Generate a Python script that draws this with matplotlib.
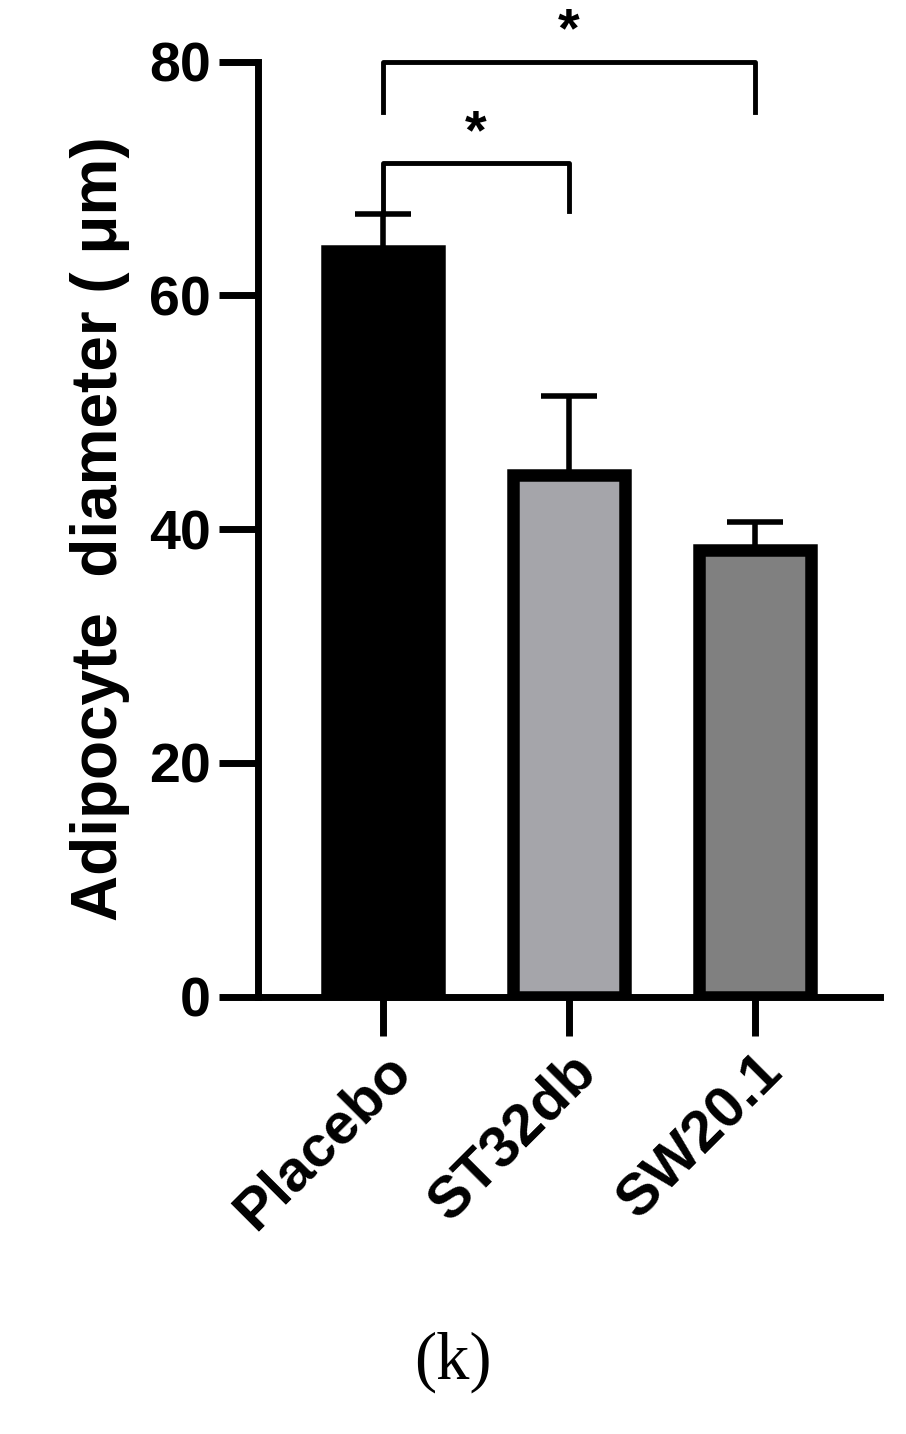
import matplotlib
matplotlib.use("Agg")
import matplotlib.pyplot as plt

categories = ["Placebo", "ST32db", "SW20.1"]
means = [63.8, 44.6, 38.2]
errs = [3.2, 6.8, 2.4]
colors = ["#000000", "#a5a5aa", "#808080"]

plt.rcParams['font.family'] = ['Liberation Sans', 'DejaVu Sans']
fig = plt.figure(figsize=(9.06, 14.34), dpi=100)
ax = fig.add_axes([0.285, 0.305, 0.686, 0.652])
x = range(len(categories))
ax.errorbar(x, means, yerr=[[0]*3, errs], fmt='none', ecolor='black',
            elinewidth=4, capsize=20, capthick=4, zorder=1)
ax.bar(x, means, width=0.6, color=colors, edgecolor='black', linewidth=9, zorder=2)
ax.set_xlim(-0.67, 2.67)
ax.set_ylim(0, 80)
ax.set_yticks([0, 20, 40, 60, 80])
for s in ['top', 'right']:
    ax.spines[s].set_visible(False)
for s in ['left', 'bottom']:
    ax.spines[s].set_linewidth(5)
ax.tick_params(axis='both', width=5, length=28, labelsize=40, pad=6)
ax.set_yticklabels([0, 20, 40, 60, 80], fontweight='bold')
ax.set_xticks(list(x))
ax.set_xticklabels(categories, rotation=45, ha='right', rotation_mode='anchor',
                   fontweight='bold', fontsize=42)
ax.set_ylabel("Adipocyte  diameter ( μm)", fontsize=46, fontweight='bold', labelpad=14)

def bracket(x1, x2, y, yl, yr):
    ax.plot([x1, x1, x2, x2], [yl, y, y, yr], color='black', lw=3.5, clip_on=False)
    ax.text((x1 + x2) / 2, y + 0.3, "*", ha='center', va='bottom', fontsize=40, fontweight='bold')

bracket(0, 1, 71.3, 67.0, 67.2)
bracket(0, 2, 80, 75.7, 75.7)

fig.text(0.5, 0.05, "(k)", ha='center', va='center', fontsize=48, family='Liberation Serif')
fig.savefig("out.png", dpi=100)
